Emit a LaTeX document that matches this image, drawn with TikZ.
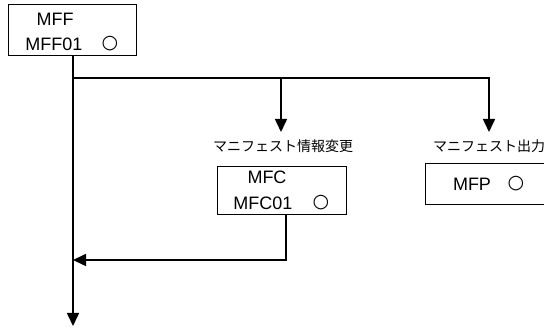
\documentclass[tikz,border=0pt]{standalone}
\usepackage{fontspec}
\setmainfont{Liberation Sans}
\newfontfamily\jp{Noto Sans CJK JP}
\newfontfamily\symf{DejaVu Sans}
\usetikzlibrary{arrows.meta}
\begin{document}
\begin{tikzpicture}[x=1pt,y=-1pt,
  boxstyle/.style={draw=black,line width=0.9pt,fill=white,inner sep=0pt},
  txt/.style={inner sep=0pt,font=\fontsize{18}{18}\selectfont},
  circmark/.style={inner sep=0pt,font=\symf\fontsize{19}{19}\selectfont},
  lab/.style={inner sep=0pt,font=\jp\fontsize{14}{14}\selectfont},
  conn/.style={line width=1.6pt,draw=black},
  arr/.style={conn,-{Triangle[width=12pt,length=13pt]}}]
\useasboundingbox (0,0) rectangle (544,328);
\clip (0,0) rectangle (544,328);
% boxes
\node[boxstyle,minimum width=128pt,minimum height=51pt] (mff) at (72,29.5) {};
\node[txt] (mffname) at (55,19) {MFF};
\node[txt] (mffid) at (54,44) {MFF01};
\node[circmark] (mffmark) at (110,44) {○};

\node[boxstyle,minimum width=129pt,minimum height=48pt] (mfc) at (281.5,190) {};
\node[txt] (mfcname) at (267,177.5) {MFC};
\node[txt] (mfcid) at (263,203) {MFC01};
\node[circmark] (mfcmark) at (321,203) {○};

\node[boxstyle,minimum width=129pt,minimum height=41pt] (mfp) at (489.5,183.5) {};
\node[txt] (mfpid) at (472,184) {MFP};
\node[circmark] (mfpmark) at (516,184) {○};

% labels
\node[lab] (lab1) at (283,146.5) {マニフェスト情報変更};
\node[lab] (lab2) at (489,146.5) {マニフェスト出力};

% coordinates
\coordinate (endpt) at (73,326);
\coordinate (junc) at (73,78);
\coordinate (t1) at (281,132);
\coordinate (t2) at (489,132);
\coordinate (ret) at (73,260);
\coordinate (mfcout) at (286,214);

% connectors
\draw[arr] (mff.south -| endpt) -- (endpt);
\draw[arr] (junc) -| (t2);
\draw[arr] (t1 |- junc) -- (t1);
\draw[arr] (mfcout) |- (ret);
\end{tikzpicture}
\end{document}
